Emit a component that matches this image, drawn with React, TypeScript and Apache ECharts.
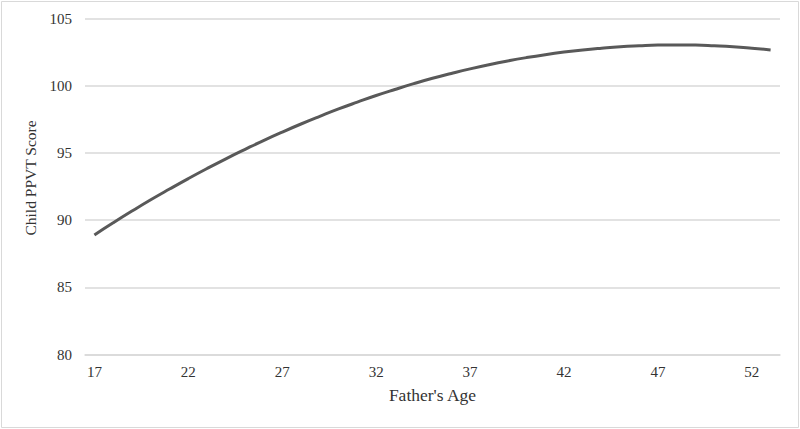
import React, { useEffect, useRef } from "react";
import * as echarts from "echarts";

const ages: string[] = [
  "17","18","19","20","21","22","23","24","25","26","27","28","29","30","31","32","33","34","35",
  "36","37","38","39","40","41","42","43","44","45","46","47","48","49","50","51","52","53",
];
const ppvt: number[] = [
  88.9, 89.8, 90.67, 91.51, 92.31, 93.09, 93.84, 94.56, 95.25, 95.92, 96.55, 97.15, 97.72, 98.27,
  98.78, 99.27, 99.72, 100.15, 100.55, 100.91, 101.25, 101.56, 101.84, 102.09, 102.31, 102.5,
  102.66, 102.79, 102.9, 102.97, 103.02, 103.03, 103.02, 102.97, 102.9, 102.79, 102.66,
];

const FONT = "'Liberation Serif', 'Times New Roman', serif";

export default function App() {
  const ref = useRef<HTMLDivElement>(null);
  useEffect(() => {
    if (!ref.current) return;
    const chart = echarts.init(ref.current, null, { renderer: "svg" });
    chart.setOption({
      animation: false,
      backgroundColor: "#ffffff",
      graphic: [
        {
          type: "rect",
          shape: { x: 1.5, y: 1.5, width: 797, height: 426 },
          style: { fill: "none", stroke: "#d9d9d9", lineWidth: 1 },
          silent: true,
        },
      ],
      grid: { left: 85, right: 20, top: 18.5, bottom: 74.5 },
      xAxis: {
        type: "category",
        data: ages,
        boundaryGap: true,
        name: "Father's Age",
        nameLocation: "middle",
        nameGap: 31,
        nameTextStyle: { fontFamily: FONT, fontSize: 17.5, color: "#333" },
        axisLine: { show: true, lineStyle: { color: "#d9d9d9", width: 1.5 } },
        axisTick: { show: false },
        axisLabel: { interval: 4, fontFamily: FONT, fontSize: 15, color: "#333", margin: 10 },
        splitLine: { show: false },
      },
      yAxis: {
        type: "value",
        min: 80,
        max: 105,
        interval: 5,
        name: "Child PPVT Score",
        nameLocation: "middle",
        nameGap: 40,
        nameTextStyle: { fontFamily: FONT, fontSize: 15.5, color: "#333", padding: [0, 0, 0, 17] },
        axisLine: { show: false },
        axisTick: { show: false },
        axisLabel: { fontFamily: FONT, fontSize: 15, color: "#333", margin: 13 },
        splitLine: { show: true, lineStyle: { color: "#d9d9d9", width: 1.5 } },
      },
      series: [
        {
          type: "line",
          data: ppvt,
          smooth: true,
          showSymbol: false,
          lineStyle: { color: "#595959", width: 3 },
        },
      ],
    });
    return () => chart.dispose();
  }, []);
  return (
    <div
      ref={ref}
      style={{ position: "fixed", left: 0, top: 0, width: 800, height: 429 }}
    />
  );
}
